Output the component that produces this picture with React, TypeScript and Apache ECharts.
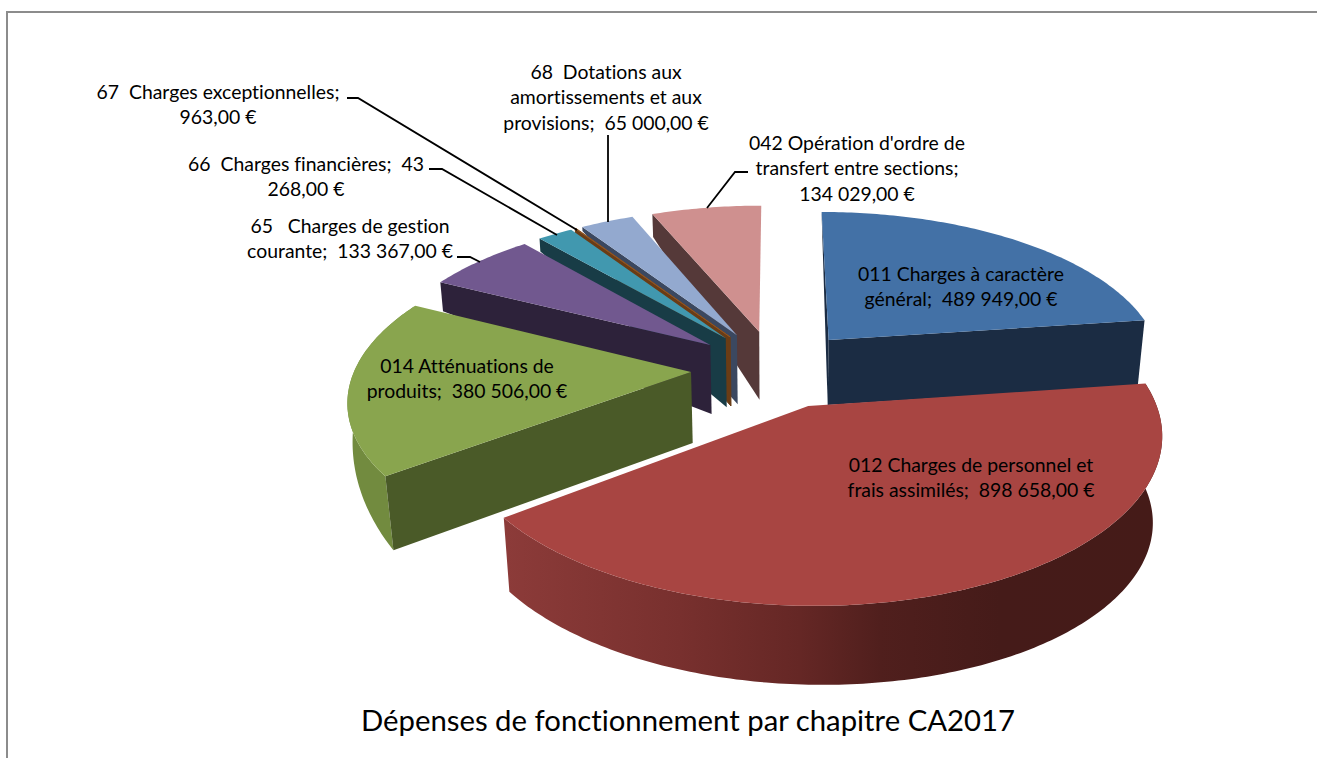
import React, { useEffect, useRef } from "react";
import * as echarts from "echarts";

const categories = [
  "011 Charges à caractère général",
  "012 Charges de personnel et frais assimilés",
  "014 Atténuations de produits",
  "65 Charges de gestion courante",
  "66 Charges financières",
  "67 Charges exceptionnelles",
  "68 Dotations aux amortissements et aux provisions",
  "042 Opération d'ordre de transfert entre sections",
];
const values = [489949, 898658, 380506, 133367, 43268, 963, 65000, 134029];
const labelLines = [
  ["011 Charges à caractère", "général;  489 949,00 €"],
  ["012 Charges de personnel et", "frais assimilés;  898 658,00 €"],
  ["014 Atténuations de", "produits;  380 506,00 €"],
  ["65   Charges de gestion", "courante;  133 367,00 €"],
  ["66  Charges financières;  43", "268,00 €"],
  ["67  Charges exceptionnelles;", "963,00 €"],
  ["68  Dotations aux", "amortissements et aux", "provisions;  65 000,00 €"],
  ["042 Opération d'ordre de", "transfert entre sections;", "134 029,00 €"],
];
const titleText = "Dépenses de fonctionnement par chapitre CA2017";

// styling and layout, kept apart from the data
const topColors = ["#4371a6", "#a84542", "#89a54e", "#71588f", "#4198af", "#8f5422", "#93a9cf", "#cf908f"];
const wallColors = ["#1b2c43", "#43201e", "#4a5a28", "#2d223a", "#183c46", "#6a3c15", "#3b4860", "#553939"];
const drawOrder = [7, 6, 5, 4, 3, 0, 2, 1];
// height of the side at the centre, at the start corner and at the end corner
const drops = [
  [65, 2, 65],
  [70, 88, 74],
  [71, 74, 0],
  [69, 29, 14],
  [69, 13, 6],
  [69, 6, 6],
  [69, 4, 10],
  [68, 23, 60],
];
// which radial walls face the viewer: [start edge, end edge, outer rim]
const faces = [
  [1, 1, 0],
  [0, 0, 1],
  [1, 0, 1],
  [1, 0, 0],
  [1, 0, 0],
  [1, 0, 0],
  [1, 0, 0],
  [1, 0, 0],
];
const labelPos = [
  [961, 273],
  [971, 464],
  [467, 365],
  [350, 225],
  [306, 163],
  [218, 91],
  [606, 71],
  [857, 142],
];
const leaders = [
  [[347, 98], [358, 98], [577, 230]],
  [[429, 169], [442, 169], [557, 235]],
  [[457, 257], [470, 257], [480, 262]],
  [[608, 135], [608, 222]],
  [[748, 172], [735, 172], [707, 208]],
];

const CX = 775, CY = 368.5, S = 336, K = 156, P = 0.155, EXPLODE = 0.25, FONT = "Lato";
const total = values.reduce((a, b) => a + b, 0);
const starts = values.map((_, i) => values.slice(0, i).reduce((a, b) => a + b, 0) / total * Math.PI * 2);

const project = (x: number, y: number): [number, number] => {
  const w = 1 + P * y;
  return [CX + (S * x) / w, CY - (K * y) / w];
};
const sinkTo = (p: number[], h: number): [number, number] => [p[0] - (p[0] - CX) * 0.00028 * h, p[1] + h];

function sliceElements(idx: number, value: number) {
  const a0 = starts[idx];
  const a1 = a0 + (value / total) * Math.PI * 2;
  const mid = (a0 + a1) / 2;
  const ox = EXPLODE * Math.sin(mid);
  const oy = EXPLODE * Math.cos(mid);
  const apex = project(ox, oy);
  const [dApex, dStart, dEnd] = drops[idx];
  const [showStart, showEnd, showRim] = faces[idx];
  const steps = Math.max(2, Math.ceil((a1 - a0) / 0.015));
  const top: [number, number][] = [];
  const bottom: [number, number][] = [];
  for (let s = 0; s <= steps; s++) {
    const t = a0 + ((a1 - a0) * s) / steps;
    const p = project(ox + Math.sin(t), oy + Math.cos(t));
    top.push(p);
    bottom.push(sinkTo(p, dStart + ((dEnd - dStart) * s) / steps));
  }
  const rimFill =
    idx === 1
      ? {
          type: "linear", global: true, x: 505, y: 0, x2: 1160, y2: 0,
          colorStops: [
            { offset: 0, color: "#8c3b39" },
            { offset: 0.267, color: "#78302e" },
            { offset: 0.45, color: "#652725" },
            { offset: 0.573, color: "#501f1d" },
            { offset: 0.755, color: "#451b19" },
            { offset: 1, color: "#451b18" },
          ],
        }
      : idx === 2
      ? "#728b3f"
      : wallColors[idx];
  const poly = (points: number[][], fill: unknown, stroke?: string) => ({
    type: "polygon",
    silent: true,
    shape: { points },
    style: { fill, stroke: stroke || "none", lineWidth: stroke ? 1 : 0 },
  });
  const apexBottom = sinkTo(apex, dApex);
  const wallStroke = idx === 5 ? wallColors[5] : undefined;
  const children = [];
  if (showRim) children.push(poly([...top, ...[...bottom].reverse()], rimFill));
  if (showEnd) children.push(poly([apex, top[steps], bottom[steps], apexBottom], wallColors[idx], wallStroke));
  if (showStart) children.push(poly([apex, top[0], bottom[0], apexBottom], wallColors[idx], wallStroke));
  children.push(poly([apex, ...top], topColors[idx], idx === 5 ? topColors[5] : undefined));
  return { type: "group", children };
}

export default function App() {
  const ref = useRef<HTMLDivElement>(null);
  useEffect(() => {
    document.body.style.margin = "0";
    const chart = echarts.init(ref.current!, undefined, { renderer: "svg" });
    const labels = labelLines.flatMap((lines, i) =>
      lines.map((line, j) => ({
        type: "text",
        silent: true,
        x: labelPos[i][0],
        y: labelPos[i][1] + j * 25.8,
        z: 10,
        style: { text: line, font: `19.4px ${FONT}`, fill: "#000", align: "center", verticalAlign: "middle" },
      }))
    );
    const leaderLines = leaders.map((points) => ({
      type: "polyline",
      silent: true,
      z: 9,
      shape: { points },
      style: { stroke: "#000", lineWidth: 1.8, fill: "none" },
    }));
    chart.setOption({
      animation: false,
      backgroundColor: "#fff",
      tooltip: { show: false },
      graphic: [
        { type: "polyline", silent: true, shape: { points: [[7, 758], [7, 12], [1317, 12]] }, style: { stroke: "#8c8c8c", lineWidth: 2, fill: "none" } },
        ...leaderLines,
        ...labels,
        {
          type: "text", silent: true, x: 688, y: 719, z: 10,
          style: { text: titleText, font: `29.3px ${FONT}`, fill: "#000", align: "center", verticalAlign: "middle" },
        },
      ],
      series: [
        {
          type: "custom",
          name: "CA2017",
          coordinateSystem: "none",
          clip: false,
          encode: { value: 1, itemName: 2 },
          data: drawOrder.map((i) => [i, values[i], categories[i]]),
          renderItem: (_p: unknown, api: any) => sliceElements(api.value(0), api.value(1)),
        },
      ],
    });
    return () => chart.dispose();
  }, []);
  return (
    <>
      <style>{"svg text { font-variant-ligatures: none !important; }"}</style>
      <div ref={ref} style={{ position: "absolute", left: 0, top: 0, width: 1317, height: 758 }} />
    </>
  );
}
